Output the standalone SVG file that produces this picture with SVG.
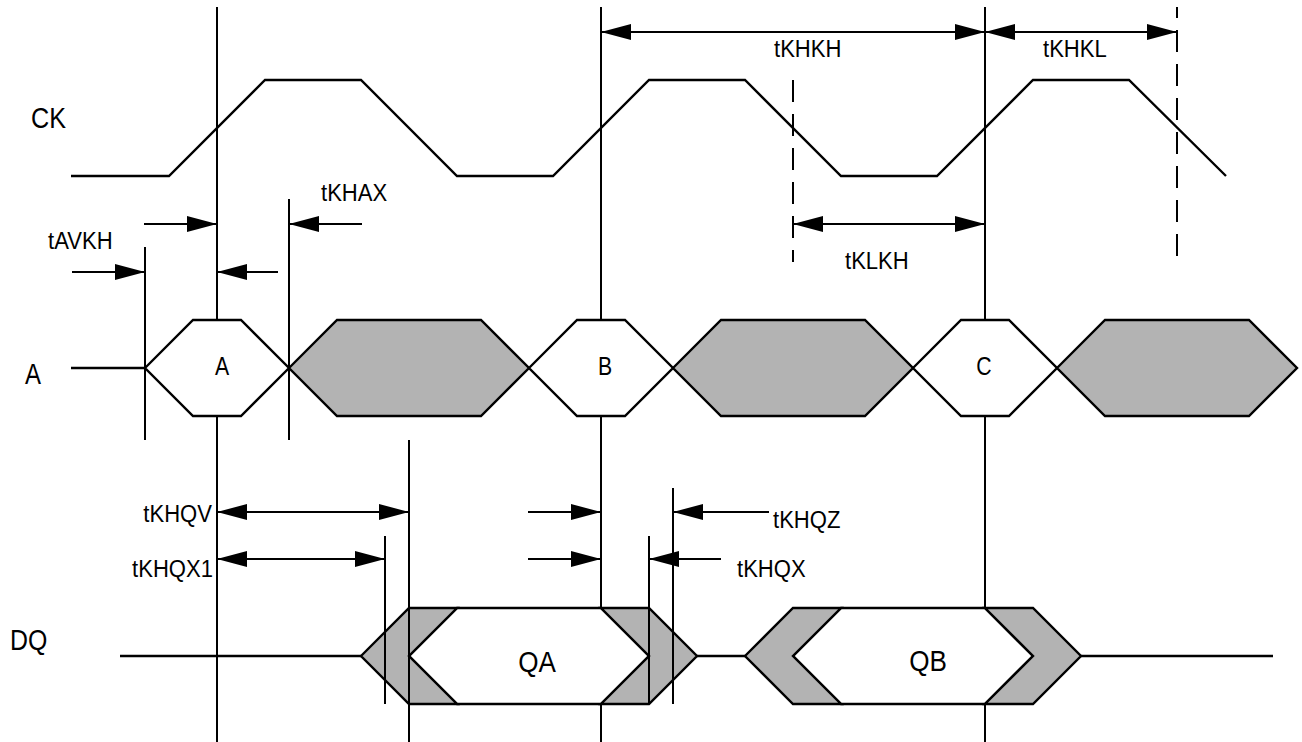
<svg xmlns="http://www.w3.org/2000/svg" width="1302" height="742" viewBox="0 0 1302 742">
<style>
.ln{stroke:#000;stroke-width:2;fill:none}
.dash{stroke:#000;stroke-width:2;fill:none;stroke-dasharray:22 12}
.wave{stroke:#000;stroke-width:2.4;fill:none;stroke-linejoin:miter}
.wh{fill:#fff;stroke:#000;stroke-width:2.4;stroke-linejoin:miter}
.gr{fill:#b3b3b3;stroke:#000;stroke-width:2.4;stroke-linejoin:miter}
.arr{stroke:#000;stroke-width:2;fill:none}
.t{font-family:"Liberation Sans",Arial,sans-serif;font-size:24px;fill:#000}
.big{font-family:"Liberation Sans",Arial,sans-serif;font-size:30px;fill:#000}
.mid{font-family:"Liberation Sans",Arial,sans-serif;font-size:25px;fill:#000;text-anchor:middle}
.q{font-family:"Liberation Sans",Arial,sans-serif;font-size:29px;fill:#000;text-anchor:middle}
</style>
<defs>
<marker id="ah" markerUnits="userSpaceOnUse" markerWidth="30" markerHeight="16" refX="30" refY="8" orient="auto-start-reverse" viewBox="0 0 30 16">
<path d="M0,0 L30,8 L0,16 z" fill="#000"/>
</marker>
</defs>
<rect width="1302" height="742" fill="#fff"/>

<g id="reference-lines">
<line class="ln" x1="217" y1="7" x2="217" y2="742"/>
<line class="ln" x1="601" y1="7" x2="601" y2="742"/>
<line class="ln" x1="985" y1="7" x2="985" y2="742"/>
<line class="ln" x1="145" y1="247" x2="145" y2="440"/>
<line class="ln" x1="289" y1="199" x2="289" y2="440"/>
<line class="dash" x1="793" y1="80" x2="793" y2="262"/>
<line class="dash" x1="1177" y1="7" x2="1177" y2="262" stroke-dashoffset="11"/>
</g>

<g id="CK">
<text class="big" transform="translate(31,128) scale(0.84,1)">CK</text>
<polyline class="wave" points="71,176 169,176 265,80 361,80 457,176 553,176 649,80 745,80 841,176 937,176 1033,80 1129,80 1226,176"/>
</g>

<g id="A-bus">
<text class="big" transform="translate(25,384) scale(0.8,1)" font-size="33">A</text>
<line class="wave" x1="71" y1="368" x2="145" y2="368"/>
<polygon class="wh" points="145,368 193,320 241,320 289,368 241,416 193,416"/>
<polygon class="gr" points="289,368 337,320 481,320 529,368 481,416 337,416"/>
<polygon class="wh" points="529,368 577,320 625,320 673,368 625,416 577,416"/>
<polygon class="gr" points="673,368 721,320 865,320 913,368 865,416 721,416"/>
<polygon class="wh" points="913,368 961,320 1009,320 1057,368 1009,416 961,416"/>
<polygon class="gr" points="1057,368 1105,320 1249,320 1297,368 1249,416 1105,416"/>
<text class="mid" transform="translate(222,375) scale(0.85,1)">A</text>
<text class="mid" transform="translate(605,375) scale(0.85,1)">B</text>
<text class="mid" transform="translate(984,375) scale(0.85,1)">C</text>
</g>

<g id="DQ-bus">
<text class="big" transform="translate(10,650) scale(0.83,1)">DQ</text>
<line class="wave" x1="120" y1="656" x2="361" y2="656"/>
<polygon class="wh" points="409,656 457,608 601,608 649,656 601,704 457,704"/>
<polygon class="gr" points="361,656 409,608 457,608 409,656 457,704 409,704"/>
<polygon class="gr" points="601,608 649,608 697,656 649,704 601,704 649,656"/>
<line class="wave" x1="697" y1="656" x2="745" y2="656"/>
<polygon class="wh" points="793,656 841,608 985,608 1033,656 985,704 841,704"/>
<polygon class="gr" points="745,656 793,608 841,608 793,656 841,704 793,704"/>
<polygon class="gr" points="985,608 1033,608 1081,656 1033,704 985,704 1033,656"/>
<line class="wave" x1="1081" y1="656" x2="1273" y2="656"/>
<text class="q" transform="translate(537,672) scale(0.9,1)">QA</text>
<text class="q" transform="translate(928,671) scale(0.9,1)">QB</text>
</g>

<g id="output-lines">
<line class="ln" x1="409" y1="440" x2="409" y2="742"/>
<line class="ln" x1="385" y1="536" x2="385" y2="704"/>
<line class="ln" x1="649" y1="536" x2="649" y2="704"/>
<line class="ln" x1="673" y1="488" x2="673" y2="704"/>
</g>

<g id="connectors">
<line class="arr" x1="601" y1="32" x2="985" y2="32" marker-start="url(#ah)" marker-end="url(#ah)"/>
<line class="arr" x1="985" y1="32" x2="1177" y2="32" marker-start="url(#ah)" marker-end="url(#ah)"/>
<line class="arr" x1="793" y1="224" x2="985" y2="224" marker-start="url(#ah)" marker-end="url(#ah)"/>
<line class="arr" x1="72" y1="272" x2="145" y2="272" marker-end="url(#ah)"/>
<line class="arr" x1="144" y1="224" x2="217" y2="224" marker-end="url(#ah)"/>
<line class="arr" x1="278" y1="272" x2="217" y2="272" marker-end="url(#ah)"/>
<line class="arr" x1="362" y1="224" x2="289" y2="224" marker-end="url(#ah)"/>
<line class="arr" x1="217" y1="512" x2="409" y2="512" marker-start="url(#ah)" marker-end="url(#ah)"/>
<line class="arr" x1="217" y1="559" x2="385" y2="559" marker-start="url(#ah)" marker-end="url(#ah)"/>
<line class="arr" x1="528" y1="512" x2="601" y2="512" marker-end="url(#ah)"/>
<line class="arr" x1="528" y1="559" x2="601" y2="559" marker-end="url(#ah)"/>
<line class="arr" x1="769" y1="512" x2="673" y2="512" marker-end="url(#ah)"/>
<line class="arr" x1="721" y1="559" x2="649" y2="559" marker-end="url(#ah)"/>
</g>

<g id="labels">
<text class="t" transform="translate(774,57) scale(0.92,1)">tKHKH</text>
<text class="t" transform="translate(1043,57) scale(0.92,1)">tKHKL</text>
<text class="t" transform="translate(845,269) scale(0.92,1)">tKLKH</text>
<text class="t" transform="translate(48,249) scale(0.92,1)">tAVKH</text>
<text class="t" transform="translate(321,201) scale(0.92,1)">tKHAX</text>
<text class="t" transform="translate(212,522) scale(0.92,1)" text-anchor="end">tKHQV</text>
<text class="t" transform="translate(213,577) scale(0.92,1)" text-anchor="end">tKHQX1</text>
<text class="t" transform="translate(773,528) scale(0.92,1)">tKHQZ</text>
<text class="t" transform="translate(737,577) scale(0.92,1)">tKHQX</text>
</g>
</svg>
